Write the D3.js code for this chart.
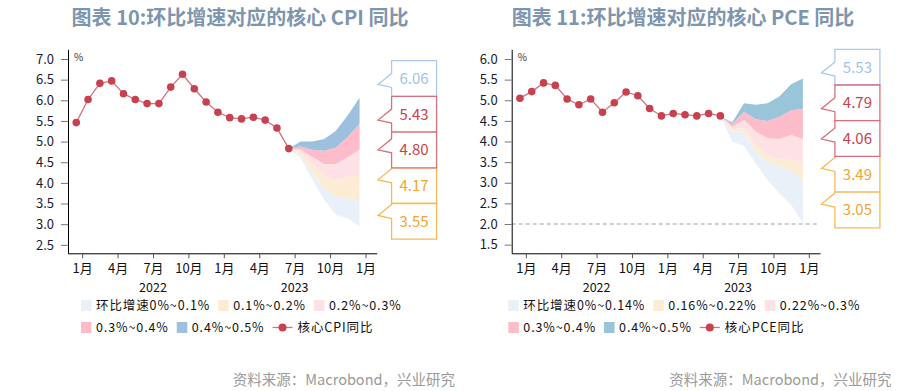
<!DOCTYPE html>
<html>
<head>
<meta charset="utf-8">
<script src="https://cdn.jsdelivr.net/npm/d3@7"></script>
<style>
  body { margin: 0; background: #fff; }
  svg text { font-family: "Noto Sans CJK SC", "Noto Sans", sans-serif; }
</style>
</head>
<body>
<script>
// month index: 0 = 1 Jan 2022, monthly values sit at mid-month (i - 0.5)
const tickMonths = [0, 3, 6, 9, 12, 15, 18, 21, 24];
const tickLabels = ["1月", "4月", "7月", "10月", "1月", "4月", "7月", "10月", "1月"];
const yearMonths = [6, 18];
const yearLabels = ["2022", "2023"];

// core CPI yoy, Dec 2021 - Jun 2023
const cpiActual = [5.46, 6.02, 6.41, 6.47, 6.16, 6.02, 5.92, 5.92, 6.32, 6.63, 6.28, 5.96,
                   5.71, 5.58, 5.55, 5.59, 5.52, 5.33, 4.83];
// scenario paths Jun 2023 - Dec 2023 for mom growth 0 / 0.1 / 0.2 / 0.3 / 0.4 / 0.5
const cpiPath00 = [4.83, 4.60, 4.09, 3.59, 3.22, 3.14, 2.95];
const cpiPath01 = [4.83, 4.68, 4.27, 3.87, 3.67, 3.63, 3.55];
const cpiPath02 = [4.83, 4.76, 4.46, 4.17, 4.05, 4.14, 4.17];
const cpiPath03 = [4.83, 4.81, 4.63, 4.46, 4.46, 4.63, 4.80];
const cpiPath04 = [4.83, 4.88, 4.80, 4.78, 4.86, 5.12, 5.43];
const cpiPath05 = [4.83, 5.00, 5.00, 5.06, 5.26, 5.64, 6.06];
const cpiBandNames = ["环比增速0%~0.1%", "0.1%~0.2%", "0.2%~0.3%", "0.3%~0.4%", "0.4%~0.5%"];

// core PCE yoy, Dec 2021 - May 2023
const pceActual = [5.05, 5.21, 5.42, 5.36, 5.03, 4.89, 5.03, 4.71, 4.94, 5.20, 5.11, 4.80,
                   4.62, 4.68, 4.65, 4.62, 4.68, 4.62];
// scenario paths May 2023 - Dec 2023 for mom growth 0 / 0.14 / 0.22 / 0.3 / 0.4 / 0.5
const pcePath00 = [4.62, 4.00, 3.89, 3.47, 3.06, 2.74, 2.46, 2.03];
const pcePath014 = [4.62, 4.24, 4.24, 3.75, 3.51, 3.41, 3.31, 3.05];
const pcePath022 = [4.62, 4.30, 4.32, 3.92, 3.67, 3.57, 3.55, 3.49];
const pcePath03 = [4.62, 4.36, 4.52, 4.24, 4.08, 4.06, 4.16, 4.06];
const pcePath04 = [4.62, 4.42, 4.72, 4.54, 4.50, 4.60, 4.76, 4.79];
const pcePath05 = [4.62, 4.46, 4.93, 4.89, 4.93, 5.09, 5.39, 5.53];
const pceBandNames = ["环比增速0%~0.14%", "0.16%~0.22%", "0.22%~0.3%", "0.3%~0.4%", "0.4%~0.5%"];

const source = "资料来源：Macrobond，兴业研究";

const lineColor = "#c8414f";
const calloutStroke = ["#acc9e8", "#d6707e", "#d6707e", "#f6ba55", "#f6ba55"];
const calloutText = ["#9fc3e6", "#c8414f", "#c8414f", "#f3a42e", "#f3a42e"];

const svg = d3.select("body").append("svg")
  .attr("width", 918)
  .attr("height", 391);

function drawPanel(p) {
  const axisTop = 49.3, axisBottom = 253.3;
  const x = d3.scaleLinear().domain([-1.2, 24.95]).range([p.left, p.right]);
  const y = d3.scaleLinear().domain(p.yDomain).range([axisBottom, axisTop]);
  const g = svg.append("g");

  // title
  g.append("text")
    .attr("x", p.titleX).attr("y", 25)
    .attr("text-anchor", "middle")
    .attr("font-size", 20).attr("font-weight", "bold")
    .attr("fill", "#7d95ae")
    .text(p.title);

  // reference line (PCE only)
  if (p.refLine != null) {
    g.append("line")
      .attr("x1", p.left).attr("x2", x(24.7))
      .attr("y1", y(p.refLine)).attr("y2", y(p.refLine))
      .attr("stroke", "#a0a0a0").attr("stroke-width", 1.2)
      .attr("stroke-dasharray", "4,3");
  }

  // fan bands
  const start = p.actual.length - 1.5;
  const area = d3.area()
    .x(d => x(d.m))
    .y0(d => y(d.lo))
    .y1(d => y(d.hi));
  for (let k = 0; k < 5; k++) {
    const rows = p.paths[k].map((v, j) => ({ m: start + j, lo: v, hi: p.paths[k + 1][j] }));
    g.append("path").datum(rows)
      .attr("d", area)
      .attr("fill", p.bandColors[k]);
  }

  // axes
  const yAxis = g.append("g")
    .attr("transform", `translate(${p.left},0)`)
    .call(d3.axisLeft(y).tickValues(p.yTicks).tickSize(7).tickSizeOuter(0)
      .tickPadding(7).tickFormat(d3.format(".1f")));
  yAxis.selectAll(".tick line").attr("stroke", "#777");
  yAxis.selectAll("text").attr("font-family", "Liberation Sans").attr("font-size", 13).attr("fill", "#1a1a33");

  const xAxis = g.append("g")
    .attr("transform", `translate(0,${axisBottom})`)
    .call(d3.axisBottom(x).tickValues(tickMonths).tickSize(5).tickSizeOuter(0)
      .tickPadding(5).tickFormat((d, i) => tickLabels[i]));
  xAxis.selectAll(".tick line").attr("stroke", "#555");
  xAxis.selectAll("text").attr("font-size", 13).attr("fill", "#111");

  g.selectAll(".year").data(yearLabels).enter().append("text")
    .attr("x", (d, i) => x(yearMonths[i])).attr("y", 291.5)
    .attr("text-anchor", "middle").attr("font-size", 12.5).attr("fill", "#111")
    .text(d => d);

  g.append("text")
    .attr("x", p.left + 6).attr("y", 61)
    .attr("font-size", 10).attr("fill", "#333")
    .text("%");

  // actual line
  const pts = p.actual.map((v, i) => ({ m: i - 0.5, v }));
  g.append("path").datum(pts)
    .attr("d", d3.line().x(d => x(d.m)).y(d => y(d.v)))
    .attr("fill", "none").attr("stroke", "#d9707c").attr("stroke-width", 1.3);
  g.selectAll(".dot").data(pts).enter().append("circle")
    .attr("cx", d => x(d.m)).attr("cy", d => y(d.v)).attr("r", 3.8)
    .attr("fill", lineColor);

  // callouts with final band values
  const endM = start + p.paths[0].length - 1;
  const bx = x(endM) + 32, bw = 45, bh = 35.7;
  const order = [3, 4, 0, 1, 2];
  order.forEach(i => {
    const val = p.paths[5 - i][p.paths[0].length - 1];
    const top = p.boxTop + i * bh;
    const tipY = Math.max(top + 12, Math.min(top + bh - 12, y(val)));
    const d = `M${bx},${top}H${bx + bw}V${top + bh}H${bx}V${tipY + 3}L${bx - 13.5},${tipY}L${bx},${tipY - 11}Z`;
    g.append("path").attr("d", d)
      .attr("fill", "#fff").attr("stroke", calloutStroke[i]).attr("stroke-width", 1.3);
    g.append("text")
      .attr("x", bx + bw / 2).attr("y", top + bh / 2 + 5.5)
      .attr("text-anchor", "middle")
      .attr("font-family", "Noto Sans").attr("font-size", 15)
      .attr("fill", calloutText[i])
      .text(d3.format(".2f")(val));
  });

  // legend
  const legend = g.append("g").attr("font-size", 12.5).attr("letter-spacing", 0.9).attr("fill", "#111");
  const rows = [
    [0, 1, 2].map(k => ({ type: "band", color: p.bandColors[k], label: p.bandNames[k] })),
    [3, 4].map(k => ({ type: "band", color: p.bandColors[k], label: p.bandNames[k] }))
      .concat([{ type: "line", label: p.lineName }])
  ];
  rows.forEach((items, r) => {
    const cy = 305.5 + r * 22;
    let lx = p.legendX;
    items.forEach(it => {
      if (it.type === "band") {
        legend.append("rect")
          .attr("x", lx).attr("y", cy - 5.5).attr("width", 10.5).attr("height", 11)
          .attr("fill", it.color);
        lx += 15;
      } else {
        legend.append("line")
          .attr("x1", lx).attr("x2", lx + 20).attr("y1", cy).attr("y2", cy)
          .attr("stroke", "#d9707c").attr("stroke-width", 1.3);
        legend.append("circle").attr("cx", lx + 10).attr("cy", cy).attr("r", 4).attr("fill", lineColor);
        lx += 25;
      }
      const t = legend.append("text").attr("x", lx).attr("y", cy + 4.5).text(it.label);
      lx += t.node().getComputedTextLength() + 8;
    });
  });

  // source
  g.append("text")
    .attr("x", p.sourceX).attr("y", 385)
    .attr("text-anchor", "end")
    .attr("font-size", 14.5).attr("fill", "#9a9a9a")
    .text(source);
}

drawPanel({
  title: "图表 10:环比增速对应的核心 CPI 同比",
  titleX: 240,
  left: 68, right: 376.7,
  yDomain: [2.295, 7.235],
  yTicks: d3.range(2.5, 7.01, 0.5),
  actual: cpiActual,
  paths: [cpiPath00, cpiPath01, cpiPath02, cpiPath03, cpiPath04, cpiPath05],
  bandColors: ["#eaf0f8", "#fdecd4", "#fee1e5", "#fcbcc9", "#9ec0df"],
  bandNames: cpiBandNames,
  lineName: "核心CPI同比",
  boxTop: 60.7,
  legendX: 81,
  sourceX: 455,
  refLine: null
});

drawPanel({
  title: "图表 11:环比增速对应的核心 PCE 同比",
  titleX: 683,
  left: 511.7, right: 820,
  yDomain: [1.29, 6.235],
  yTicks: d3.range(1.5, 6.01, 0.5),
  actual: pceActual,
  paths: [pcePath00, pcePath014, pcePath022, pcePath03, pcePath04, pcePath05],
  bandColors: ["#eaf0f8", "#fdecd4", "#fee1e5", "#fcbcc9", "#9ac4da"],
  bandNames: pceBandNames,
  lineName: "核心PCE同比",
  boxTop: 49.3,
  legendX: 508.3,
  sourceX: 891.5,
  refLine: 2.0
});
</script>
</body>
</html>
